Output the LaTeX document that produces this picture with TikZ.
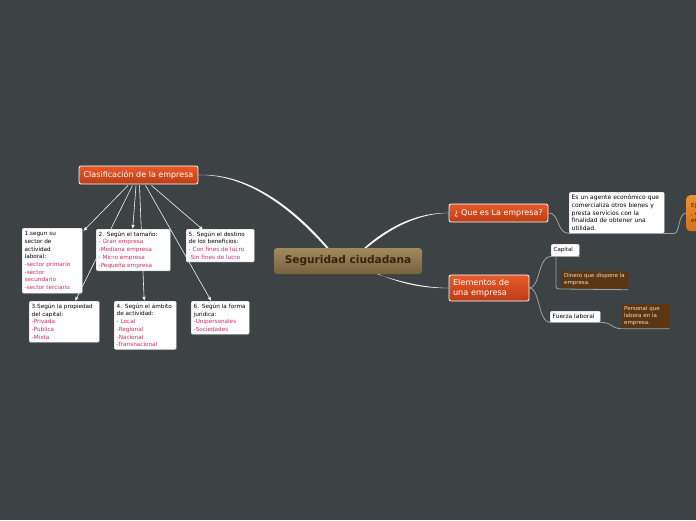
\documentclass[tikz,border=0pt]{standalone}
\usepackage{fontspec}
\setmainfont{DejaVu Sans}
\usetikzlibrary{arrows.meta,calc,shadows}
\definecolor{bg}{RGB}{61,66,68}
\definecolor{redtxt}{RGB}{214,40,90}
\definecolor{orTop}{RGB}{232,90,40}
\definecolor{orBot}{RGB}{188,60,22}
\definecolor{ejTop}{RGB}{236,145,50}
\definecolor{ejBot}{RGB}{214,112,30}
\definecolor{tanTop}{RGB}{162,138,94}
\definecolor{tanBot}{RGB}{118,98,62}
\definecolor{tanTxt}{RGB}{58,34,14}
\definecolor{brownbox}{RGB}{92,54,18}
\definecolor{browntxt}{RGB}{236,222,200}
\definecolor{linegray}{RGB}{160,164,164}
\hyphenpenalty=10000
\tikzset{
  x=1pt,y=-1pt,
  centralbox/.style={inner sep=0,minimum width=148,minimum height=26,rounded corners=3pt,top color=tanTop,bottom color=tanBot,text=tanTxt,font=\bfseries\fontsize{10.6}{12}\selectfont},
  orangebox/.style={top color=orTop,bottom color=orBot,draw=white,line width=0.8pt,rounded corners=2pt,text=white,font=\fontsize{8}{9}\selectfont,inner sep=2pt},
  whitebox/.style={fill=white,draw=gray!40,rounded corners=1.2pt,anchor=north west,align=left,font=\fontsize{5.7}{7.7}\selectfont,inner xsep=2.5pt,inner ysep=2.5pt,drop shadow={opacity=0.35,shadow xshift=0.8pt,shadow yshift=-0.8pt}},
  brbox/.style={fill=brownbox,rounded corners=1pt,anchor=north west,align=left,text=browntxt,font=\fontsize{5.5}{7}\selectfont,inner xsep=3pt,inner ysep=2.5pt},
  arr/.style={draw=white!90!gray,line width=0.6pt,-{Latex[length=4pt,width=3.5pt]}},
  glink/.style={draw=linegray,line width=0.8pt},
  conn/.style={fill=white!92!gray},
}
\newcommand\rt[1]{\textcolor{redtxt}{#1}}
\begin{document}
\begin{tikzpicture}
\useasboundingbox (0,0) rectangle (696,520);
\fill[bg] (0,0) rectangle (696,520);

% anchor points of main nodes (connectors drawn below the nodes)
\coordinate (cN) at (348,248);
\coordinate (cS) at (348,274);
\coordinate (clasE) at (198,175);
\coordinate (queW) at (449,213);
\coordinate (elemW) at (449,288);

% main tapered connectors
\fill[conn] (clasE) .. controls (252,172) and (300,214) .. ($(cN)+(-18.5,1)$) -- ($(cN)+(-20.8,1)$) .. controls (298,216) and (252,174) .. (clasE);
\fill[conn] ($(cN)+(15,1)$) .. controls (385,229) and (415,212) .. (queW) -- (queW) .. controls (415,213.5) and (387,231) .. ($(cN)+(17.3,1)$);
\fill[conn] ($(cS)+(26,-1)$) .. controls (400,282) and (425,287.6) .. (elemW) -- (elemW) .. controls (425,288.8) and (400,284) .. ($(cS)+(28.3,-1)$);

% main nodes
\node[centralbox] (central) at (348,261) {Seguridad ciudadana};
\node[orangebox,minimum width=119,minimum height=18] (clas) at (138.5,175) {Clasificación de la empresa};
\node[orangebox,minimum width=99,minimum height=18] (que) at (498.5,213) {¿ Que es La empresa?};
\node[orangebox,minimum width=80,minimum height=26,align=left,text width=72,font=\fontsize{8.2}{9.5}\selectfont] (elem) at (489,288) {Elementos de\\una empresa};

% arrow start points on Clasificación
\coordinate (s1) at ($(clas.south)+(-10.5,1)$);
\coordinate (s3) at ($(clas.south)+(-6,1)$);
\coordinate (s2) at ($(clas.south)+(-2.5,1)$);
\coordinate (s4) at ($(clas.south)+(1,1)$);
\coordinate (s6) at ($(clas.south)+(7,1)$);
\coordinate (s5) at ($(clas.south)+(13,1)$);

% left boxes
\node[whitebox,text width=55,minimum height=65] (b1) at (22,228) {1.segun su\\sector de\\actividad\\laboral:\\\rt{-sector primario}\\\rt{-sector}\\\rt{secundario}\\\rt{-sector terciario}};
\node[whitebox,text width=63,minimum height=32] (b5) at (186,229) {5. Según el destino\\de los beneficios:\\\rt{- Con fines de lucro}\\\rt{-Sin fines de lucro}};
\node[whitebox,text width=65,minimum height=41] (b3) at (29,301) {3.Según la propiedad\\del capital:\\\rt{-Privada}\\\rt{-Publica}\\\rt{-Mixta}};
\node[whitebox,text width=57,minimum height=48] (b4) at (114,301) {4. Según el ámbito\\de actividad:\\\rt{- Local}\\\rt{-Regional}\\\rt{-Nacional}\\\rt{-Transnacional}};
\node[whitebox,text width=53,minimum height=33] (b6) at (191,301) {6. Según la forma\\ jurídica:\\\rt{-Unipersonales}\\\rt{-Sociedades}};

\draw[arr] (s1) -- ($(b1.north east)+(1,3)$);
\draw[arr] (s5) -- ($(b5.north)+(-17,1)$);
\draw[arr] (s3) -- ($(b3.north)+(11,0)$);
\draw[arr] (s4) -- ($(b4.north)+(-1,0)$);
\draw[arr] (s6) -- ($(b6.north)+(-9,0)$);
% box 2 over the line to box 4
\node[whitebox,text width=69,minimum height=41] (b2) at (96,229) {2. Según el tamaño:\\\rt{- Gran empresa}\\\rt{-Mediana empresa}\\\rt{- Micro empresa}\\\rt{-Pequeña empresa}};
\draw[arr] (s2) -- ($(b2.north)+(-0.5,0)$);

% right side
\node[whitebox,text width=90,minimum height=41,font=\fontsize{6}{7.7}\selectfont] (desc) at (569,192) {Es un agente económico que\\comercializa otros bienes y\\presta servicios con la\\finalidad de obtener una\\utilidad.};
\node[top color=ejTop,bottom color=ejBot,rounded corners=4pt,anchor=north west,minimum width=40,minimum height=36,align=left,text width=30,inner xsep=3pt,font=\fontsize{5.5}{7.5}\selectfont,text=tanTxt] (ej) at (686,195) {Ej\\, A\\et};
\node[whitebox,text width=23,minimum height=12,inner ysep=1.5pt,font=\fontsize{5.5}{6.5}\selectfont] (cap) at (551,244) {Capital};
\node[whitebox,text width=45,minimum height=11,inner ysep=1.5pt,font=\fontsize{5.9}{6.5}\selectfont] (fue) at (550,311) {Fuerza laboral};
\node[brbox,text width=61,minimum height=17] (din) at (561,271) {Dinero que dispone la\\empresa.};
\node[brbox,text width=42,minimum height=24] (per) at (621,304) {Personal que\\labora en la\\empresa.};

\draw[glink] (que.east) .. controls (560,213) and (556,233) .. (desc.south west) -- (desc.south east) -- ++(10,0) .. controls (680,233) and (678,213) .. (ej.west);
\draw[glink] (elem.east) .. controls (540,288) and (538,256) .. (cap.south west) -- (cap.south east);
\draw[glink] (elem.east) .. controls (540,288) and (538,322) .. (fue.south west) -- (fue.south east);
\draw[glink] ($(cap.south west)+(5,0)$) -- (556,283) .. controls (556,289) .. (562,289) -- ($(din.south east)+(0,1)$);
\draw[glink] (fue.south east) .. controls (612,322) and (610,328) .. (per.south west) -- (per.south east);
\end{tikzpicture}
\end{document}
